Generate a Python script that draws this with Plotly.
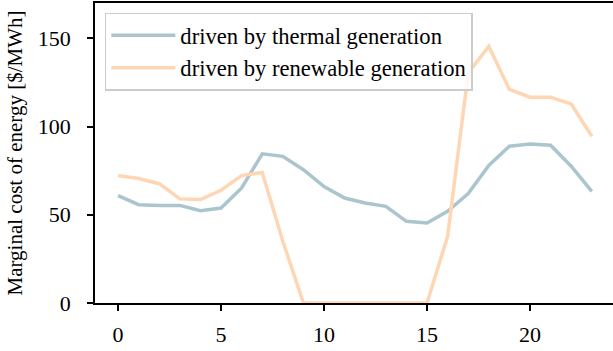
import plotly.graph_objects as go

hours = list(range(24))
thermal = [60.8, 55.7, 55.3, 55.3, 52.3, 53.8, 65.2, 84.5, 83.1, 75.5, 66.0, 59.5,
           56.7, 54.8, 46.3, 45.3, 52.0, 62.0, 78.0, 88.8, 90.1, 89.4, 77.5, 63.3]
renewable = [72.2, 70.5, 67.6, 59.0, 58.6, 63.9, 72.2, 74.0, 35.0, 0, 0, 0,
             0, 0, 0, 0, 37.8, 130.4, 145.5, 121.0, 116.6, 116.6, 112.8, 94.5]

names = ["driven by thermal generation", "driven by renewable generation"]
colors = ["rgb(170,197,206)", "rgb(255,214,180)"]

FONT = "Liberation Serif"
FS = 22

fig = go.Figure()
for y, n, c in zip([thermal, renewable], names, colors):
    fig.add_trace(go.Scatter(x=hours, y=y, mode="lines", name=n,
                             line=dict(color=c, width=3.5)))

fig.update_layout(
    width=613, height=351,
    margin=dict(l=95, r=0, t=3, b=48, autoexpand=False),
    plot_bgcolor="white", paper_bgcolor="white",
    font=dict(family=FONT, size=FS, color="black"),
    showlegend=True,
    legend=dict(x=0.019, y=0.968, xanchor="left", yanchor="top",
                bgcolor="rgba(255,255,255,0.8)", bordercolor="#cccccc", borderwidth=1.5,
                font=dict(family=FONT, size=22.6), tracegroupgap=0, itemwidth=64),
    xaxis=dict(range=[-1.12, 24.03], tickvals=[0, 5, 10, 15, 20], showgrid=False, zeroline=False,
               showline=True, linecolor="black", linewidth=1.8, mirror=True, automargin=False,
               ticks="outside", ticklen=6, tickwidth=1.5, tickcolor="black",
               tickfont=dict(family=FONT, size=FS), ticklabelstandoff=5),
    yaxis=dict(range=[0, 170], tickvals=[0, 50, 100, 150], showgrid=False, zeroline=False,
               showline=True, linecolor="black", linewidth=1.8, automargin=False,
               ticks="outside", ticklen=6, tickwidth=1.5, tickcolor="black",
               tickfont=dict(family=FONT, size=FS), ticklabelstandoff=12,
               title=dict(text="Marginal cost of energy [$/MWh]", standoff=9,
                          font=dict(family=FONT, size=21))),
)

fig.write_html("out.html", config={"displayModeBar": False},
               post_script="document.body.style.margin='0';")
